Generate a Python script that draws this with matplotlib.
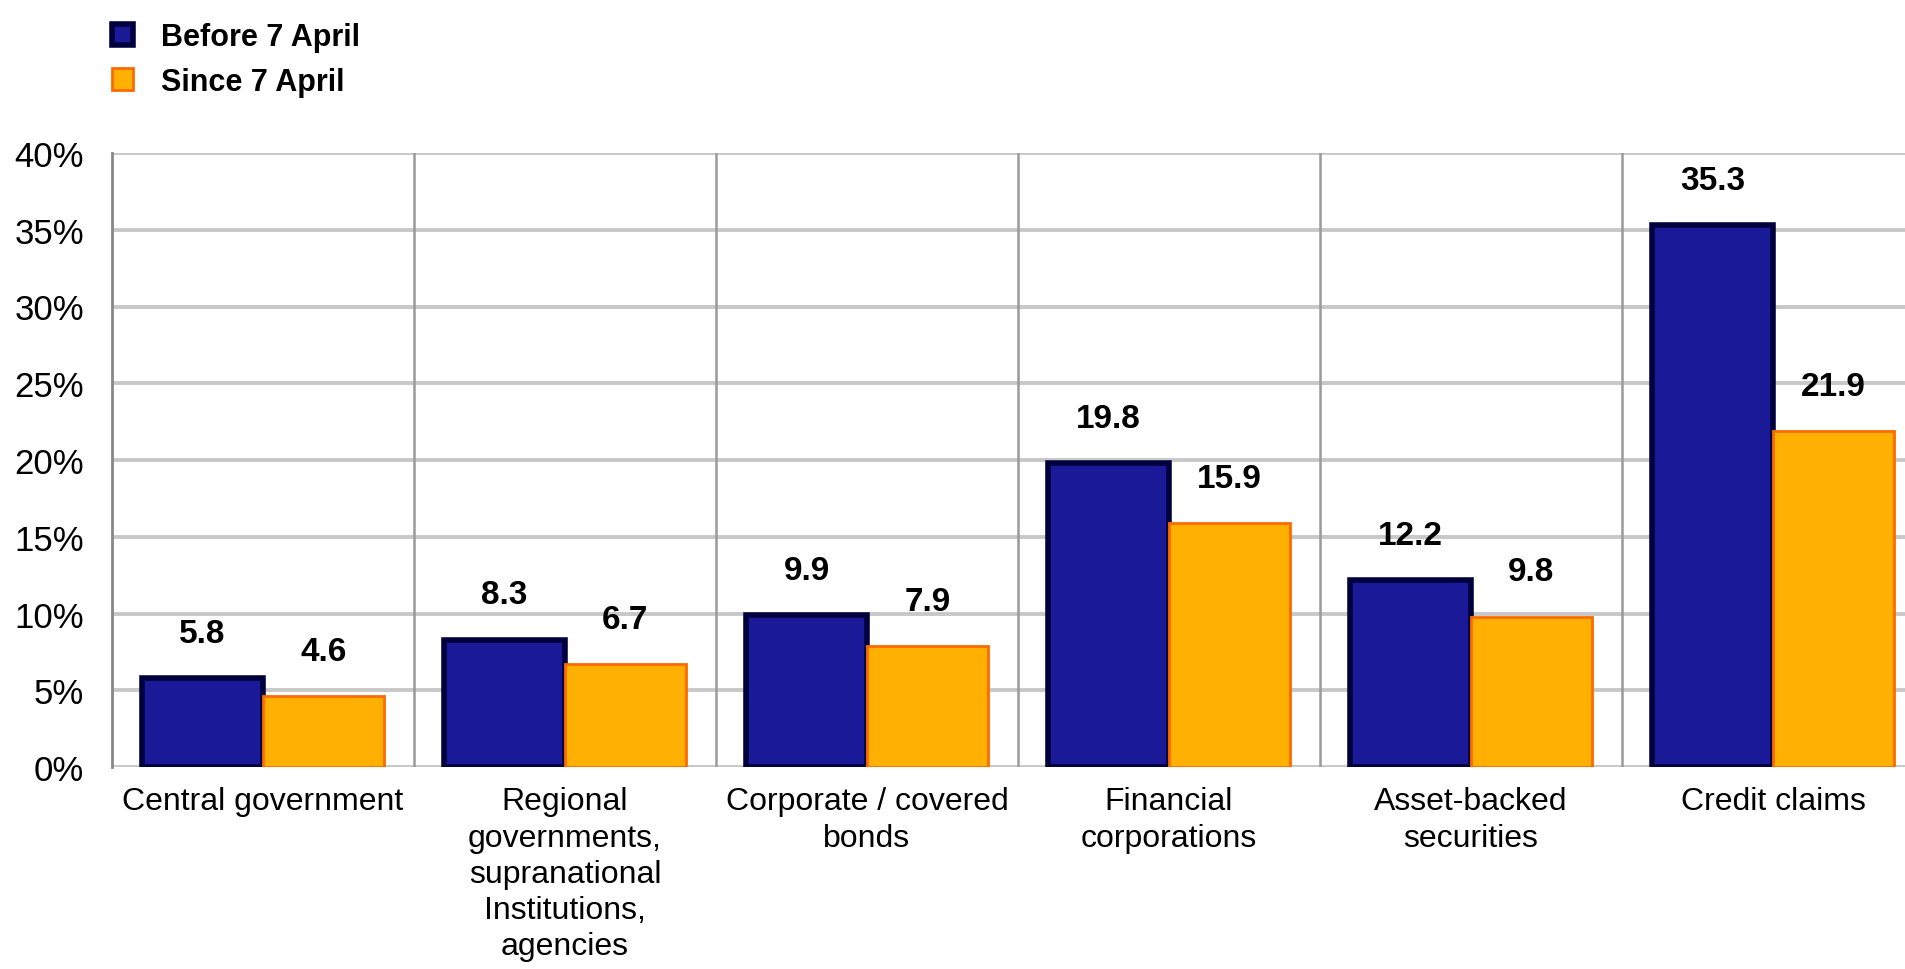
import numpy as np
import matplotlib
matplotlib.use("Agg")
import matplotlib.pyplot as plt

plt.rcParams['font.family'] = ['Liberation Sans', 'DejaVu Sans']

categories = ["Central government",
              "Regional\ngovernments,\nsupranational\nInstitutions,\nagencies",
              "Corporate / covered\nbonds",
              "Financial\ncorporations",
              "Asset-backed\nsecurities",
              "Credit claims"]
before = [5.8, 8.3, 9.9, 19.8, 12.2, 35.3]
since = [4.6, 6.7, 7.9, 15.9, 9.8, 21.9]
series_names = ["Before 7 April", "Since 7 April"]
y_ticks = [0, 5, 10, 15, 20, 25, 30, 35, 40]
y_tick_labels = ["0%", "5%", "10%", "15%", "20%", "25%", "30%", "35%", "40%"]

W, H = 1905, 970
fig = plt.figure(figsize=(W / 100, H / 100), dpi=100)
# plot area runs past the right edge, like the cropped original
ax = fig.add_axes([112 / W, (H - 768) / H, 6 * 302 / W, 614 / H])

x = np.arange(len(categories))
bw = 0.4
b1 = ax.bar(x - bw / 2, before, bw, color='#1a1a99', edgecolor='#00003c',
            linewidth=4, zorder=3, label=series_names[0])
b2 = ax.bar(x + bw / 2, since, bw, color='#ffb000', edgecolor='#ff6a00',
            linewidth=2, zorder=3, label=series_names[1])

for bars, vals in [(b1, before), (b2, since)]:
    for r, v in zip(bars, vals):
        ax.annotate(f"{v:.1f}", (r.get_x() + r.get_width() / 2, v),
                    xytext=(0, 26), textcoords='offset points',
                    ha='center', va='baseline', fontsize=24, fontweight='bold')

ax.set_xlim(-0.5, len(categories) - 0.5)
ax.set_ylim(0, 40)
ax.set_yticks(y_ticks)
ax.set_yticklabels(y_tick_labels, fontsize=25)
ax.set_xticks(x)
ax.set_xticklabels(categories, fontsize=23, linespacing=1.27)
ax.tick_params(axis='y', length=0, pad=20)
ax.tick_params(axis='x', length=0, pad=14)

ax.yaxis.grid(True, color='#c8c8c8', linewidth=2.8, zorder=0)
ax.set_axisbelow(True)
for sep in x[:-1] + 0.5:
    ax.axvline(sep, color='#9a9a9a', linewidth=1.8, zorder=1)

for s in ['top', 'right', 'bottom']:
    ax.spines[s].set_visible(False)
ax.spines['left'].set_color('#888888')
ax.spines['left'].set_linewidth(2)

fig.legend(handles=[b1, b2], loc='upper left',
           bbox_to_anchor=(112 / W, 1 - 23 / H), frameon=False,
           prop={'size': 22, 'weight': 'bold'},
           handlelength=0.7, handleheight=0.7,
           handletextpad=0.9, labelspacing=0.48, borderpad=0,
           borderaxespad=0)

fig.savefig("out.png", dpi=100, facecolor='white')
